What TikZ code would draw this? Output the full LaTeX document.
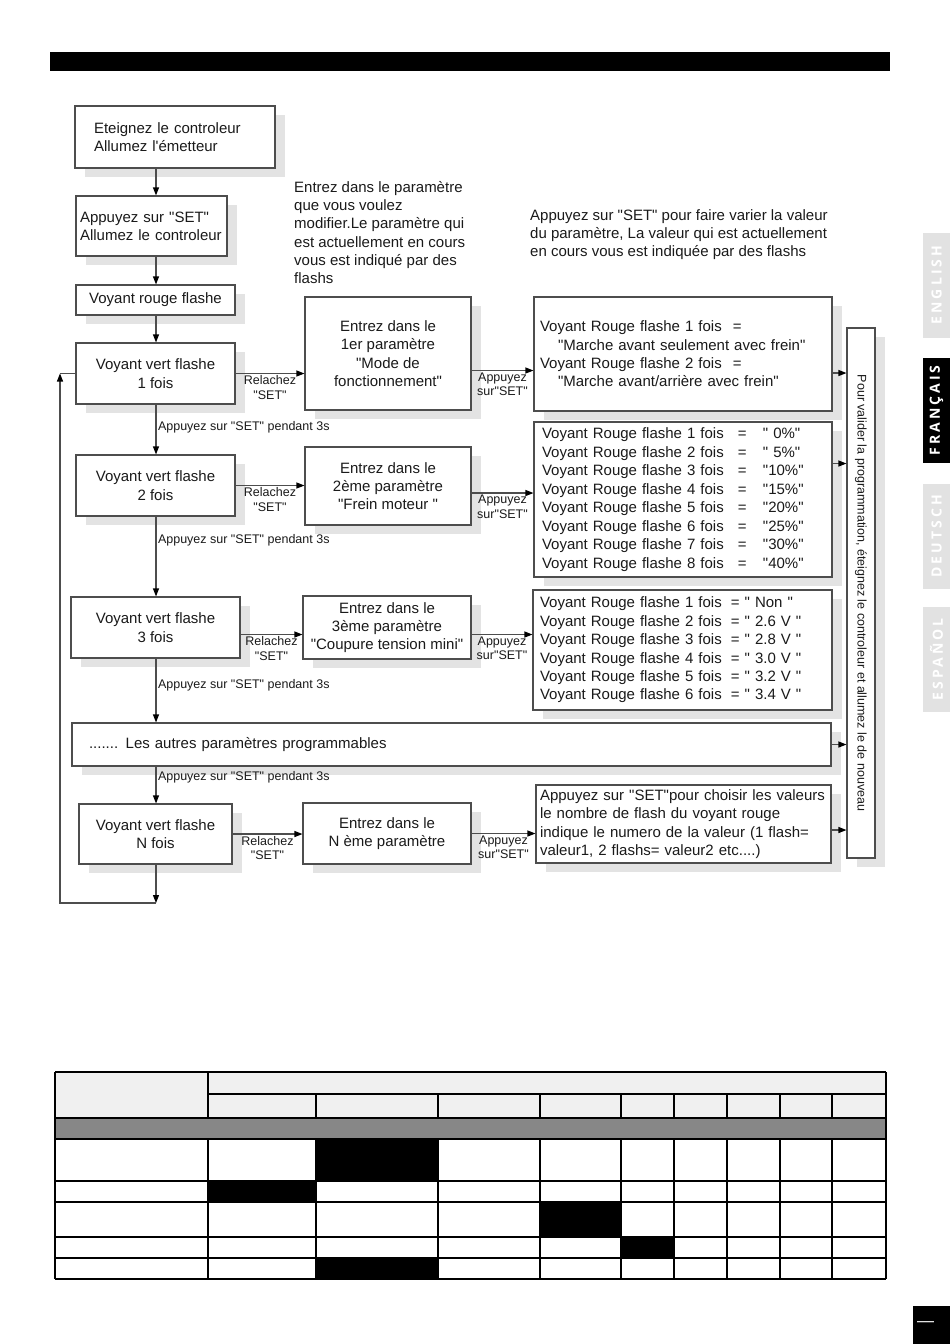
\documentclass[tikz,border=0pt]{standalone}
\usepackage{fontspec}
\setmainfont{Liberation Sans}[Ligatures=TeXOff]
\newfontfamily\tabfont[LetterSpace=22]{Open Sans}
\usetikzlibrary{arrows.meta,shadows}
\definecolor{ink}{HTML}{1A1A1A}
\definecolor{frame}{HTML}{4D4D4D}
\definecolor{shade}{HTML}{E3E3E3}
\definecolor{tabgrey}{HTML}{E2E2E2}
\definecolor{headfill}{HTML}{F0F0F0}
\definecolor{band}{HTML}{878787}

\begin{document}
\begin{tikzpicture}[x=1pt,y=-1pt,font=\fontsize{15}{18.3}\selectfont,text=ink,
  box/.style={draw=frame,line width=1.1pt,fill=white,inner sep=0pt,align=center,
    drop shadow={shadow xshift=10pt,shadow yshift=-9pt,fill=shade,opacity=1}},
  link/.style={draw=frame,line width=1.1pt,-{Triangle[length=8pt,width=6pt,color=black]}},
  wire/.style={draw=frame,line width=1.1pt},
  lbl/.style={font=\fontsize{12.5}{14.8}\selectfont,inner sep=1.5pt,align=center},
  tab/.style={rotate=90,minimum width=105pt,minimum height=27pt,inner sep=0pt,
    text=white,font=\tabfont\bfseries\fontsize{14}{14}\selectfont}]
  \path[fill=white,use as bounding box] (0,0) rectangle (950,1344);

  \fill[black] (50,52) rectangle (890,71);

  % left column
  \node[box,minimum width=200pt,minimum height=62pt,text width=162pt,align=left]
    (off) at (175,137) {Eteignez le controleur\\Allumez l'émetteur};
  \node[box,minimum width=151pt,minimum height=60pt,text width=143pt,align=left]
    (set) at (151.5,226) {Appuyez sur "SET"\\Allumez le controleur};
  \node[box,minimum width=159pt,minimum height=30pt] (red) at (155.5,300) {Voyant rouge flashe};
  \node[box,minimum width=159pt,minimum height=61pt] (v1) at (155.5,373.5) {Voyant vert flashe\\1 fois};
  \node[box,minimum width=159pt,minimum height=61pt] (v2) at (155.5,485.5) {Voyant vert flashe\\2 fois};
  \node[box,minimum width=169pt,minimum height=61pt] (v3) at (155.5,627.5) {Voyant vert flashe\\3 fois};
  \node[box,minimum width=759pt,minimum height=43pt,text width=725pt,align=left]
    (others) at (451.5,744.5) {....... Les autres paramètres programmables};
  \node[box,minimum width=153pt,minimum height=60pt] (vN) at (155.5,834) {Voyant vert flashe\\N fois};

  % parameter boxes
  \node[box,minimum width=166pt,minimum height=113pt] (p1) at (388,353.5)
    {Entrez dans le\\1er paramètre\\"Mode de\\fonctionnement"};
  \node[box,minimum width=166pt,minimum height=78pt] (p2) at (388,486)
    {Entrez dans le\\2ème paramètre\\"Frein moteur "};
  \node[box,minimum width=168pt,minimum height=63pt] (p3) at (387,627.5)
    {Entrez dans le\\3ème paramètre\\"Coupure tension mini"};
  \node[box,minimum width=168pt,minimum height=61pt] (pN) at (387,833.5)
    {Entrez dans le\\N ème paramètre};

  % value boxes
  \node[box,minimum width=298pt,minimum height=114pt,text width=286pt,align=left] (r1) at (683,354)
    {\makebox[193pt][l]{Voyant Rouge flashe 1 fois}=\\
     \hspace*{18pt}"Marche avant seulement avec frein"\\
     \makebox[193pt][l]{Voyant Rouge flashe 2 fois}=\\
     \hspace*{18pt}"Marche avant/arrière avec frein"};
  \node[box,minimum width=298pt,minimum height=155pt,text width=282pt,align=left,
    font=\fontsize{15}{18.5}\selectfont] (r2) at (683,499.5)
    {\makebox[196pt][l]{Voyant Rouge flashe 1 fois}\makebox[25pt][l]{=}" 0\%"\\
     \makebox[196pt][l]{Voyant Rouge flashe 2 fois}\makebox[25pt][l]{=}" 5\%"\\
     \makebox[196pt][l]{Voyant Rouge flashe 3 fois}\makebox[25pt][l]{=}"10\%"\\
     \makebox[196pt][l]{Voyant Rouge flashe 4 fois}\makebox[25pt][l]{=}"15\%"\\
     \makebox[196pt][l]{Voyant Rouge flashe 5 fois}\makebox[25pt][l]{=}"20\%"\\
     \makebox[196pt][l]{Voyant Rouge flashe 6 fois}\makebox[25pt][l]{=}"25\%"\\
     \makebox[196pt][l]{Voyant Rouge flashe 7 fois}\makebox[25pt][l]{=}"30\%"\\
     \makebox[196pt][l]{Voyant Rouge flashe 8 fois}\makebox[25pt][l]{=}"40\%"};
  \node[box,minimum width=299pt,minimum height=120pt,text width=285pt,align=left,
    font=\fontsize{15}{18.4}\selectfont] (r3) at (682.5,650)
    {\makebox[191pt][l]{Voyant Rouge flashe 1 fois}=\ " Non "\\
     \makebox[191pt][l]{Voyant Rouge flashe 2 fois}=\ " 2.6 V "\\
     \makebox[191pt][l]{Voyant Rouge flashe 3 fois}=\ " 2.8 V "\\
     \makebox[191pt][l]{Voyant Rouge flashe 4 fois}=\ " 3.0 V "\\
     \makebox[191pt][l]{Voyant Rouge flashe 5 fois}=\ " 3.2 V "\\
     \makebox[191pt][l]{Voyant Rouge flashe 6 fois}=\ " 3.4 V "};
  \node[box,minimum width=295pt,minimum height=78pt,text width=287pt,align=left] (rN) at (683.5,824)
    {Appuyez sur "SET"pour choisir les valeurs\\le nombre de flash du voyant rouge\\
     indique le numero de la valeur (1 flash=\\valeur1, 2 flashs= valeur2 etc....)};

  \node[box,minimum width=28pt,minimum height=530pt] (valid) at (861,593) {};
  \node[rotate=-90,font=\fontsize{12.5}{14}\selectfont] (validtext) at (valid.center)
    {Pour valider la programmation, éteignez le controleur et allumez le de nouveau};

  % notes above
  \node[anchor=north west,inner sep=0pt,align=left] (hint1) at (294,181)
    {Entrez dans le paramètre\\que vous voulez\\modifier.Le paramètre qui\\est actuellement en cours\\vous est indiqué par des\\flashs};
  \node[anchor=north west,inner sep=0pt,align=left] (hint2) at (530,209)
    {Appuyez sur "SET" pour faire varier la valeur\\du paramètre, La valeur qui est actuellement\\en cours vous est indiquée par des flashs};

  % connectors
  \coordinate (spine) at (156,0);
  \draw[link] (off.south -| spine) -- (set.north -| spine);
  \draw[link] (set.south -| spine) -- (red.north -| spine);
  \draw[link] (red.south -| spine) -- (v1.north -| spine);
  \draw[link] (v1.south -| spine) -- node[lbl,right,pos=0.45] {Appuyez sur "SET" pendant 3s} (v2.north -| spine);
  \draw[link] (v2.south -| spine) -- node[lbl,right,pos=0.3] {Appuyez sur "SET" pendant 3s} (v3.north -| spine);
  \draw[link] (v3.south -| spine) -- node[lbl,right,pos=0.42] {Appuyez sur "SET" pendant 3s} (others.north -| spine);
  \draw[link] (others.south -| spine) -- node[lbl,right,pos=0.3] {Appuyez sur "SET" pendant 3s} (vN.north -| spine);

  \coordinate (v3out) at ([yshift=-7pt]v3.east);
  \draw[link] (v1.east) -- node[lbl,below] {Relachez\\"SET"} (v1.east -| p1.west);
  \draw[link] (v2.east) -- node[lbl,below] {Relachez\\"SET"} (v2.east -| p2.west);
  \draw[link] (v3out) -- node[lbl,below] {Relachez\\"SET"} (v3out -| p3.west);
  \draw[link] (vN.east) -- node[lbl,below] {Relachez\\"SET"} (vN.east -| pN.west);

  \coordinate (p1out) at ([yshift=-17pt]p1.east);
  \coordinate (p2out) at ([yshift=-7pt]p2.east);
  \coordinate (p3out) at ([yshift=-7pt]p3.east);
  \draw[link] (p1out) -- node[lbl,below] {Appuyez\\sur"SET"} (p1out -| r1.west);
  \draw[link] (p2out) -- node[lbl,below] {Appuyez\\sur"SET"} (p2out -| r2.west);
  \draw[link] (p3out) -- node[lbl,below] {Appuyez\\sur"SET"} (p3out -| r3.west);
  \draw[link] (pN.east) -- node[lbl,below] {Appuyez\\sur"SET"} (pN.east -| rN.west);

  \coordinate (r1out) at ([yshift=-19pt]r1.east);
  \coordinate (r2out) at ([yshift=36pt]r2.east);
  \coordinate (rNout) at ([yshift=-6pt]rN.east);
  \draw[link] (r1out) -- (r1out -| valid.west);
  \draw[link] (r2out) -- (r2out -| valid.west);
  \draw[link] (others.east) -- (others.east -| valid.west);
  \draw[link] (rNout) -- (rNout -| valid.west);

  % loop back to 1 fois
  \coordinate (loopb) at (156,903);
  \coordinate (loopc) at (60,903);
  \coordinate (loopt) at (v1.west -| loopc);
  \draw[link] (vN.south -| spine) -- (loopb);
  \draw[link] (loopb) -- (loopc) -- (loopt);
  \draw[wire] (loopt) -- (v1.west);

  % language tabs
  \node[tab,fill=tabgrey] (en) at (936.5,285) {ENGLISH};
  \node[tab,fill=black] (fr) at (936.5,410.5) {FRANÇAIS};
  \node[tab,fill=tabgrey] (de) at (936.5,536.5) {DEUTSCH};
  \node[tab,fill=tabgrey] (es) at (936.5,659.5) {ESPAÑOL};

  % empty table
  \fill[headfill] (55,1072) rectangle (886,1118);
  \fill[band] (55,1118) rectangle (886,1139);
  \fill[black] (316,1139) rectangle (438,1181);
  \fill[black] (208,1181) rectangle (316,1202);
  \fill[black] (540,1202) rectangle (621,1237);
  \fill[black] (621,1237) rectangle (674,1258);
  \fill[black] (316,1258) rectangle (438,1279);
  \draw[line width=2.4pt] (55,1072) -- (886,1072) (55,1118) -- (886,1118) (55,1279) -- (886,1279);
  \draw[line width=1.8pt] (208,1094) -- (886,1094);
  \foreach \y in {1139,1181,1202,1237,1258}
    \draw[line width=1.6pt] (55,\y) -- (886,\y);
  \draw[line width=1.2pt] (55,1072) -- (55,1279) (886,1072) -- (886,1279);
  \draw[line width=1.2pt] (208,1072) -- (208,1118) (208,1139) -- (208,1279);
  \foreach \x in {316,438,540,621,674,727,780,832} {
    \draw[line width=1.2pt] (\x,1094) -- (\x,1118);
    \draw[line width=1.2pt] (\x,1139) -- (\x,1279);
  }

  \fill[black] (913,1306) rectangle (950,1344);
  \node[text=white,font=\fontsize{17}{17}\selectfont] (pagenum) at (925.5,1324) {—};
\end{tikzpicture}
\end{document}
